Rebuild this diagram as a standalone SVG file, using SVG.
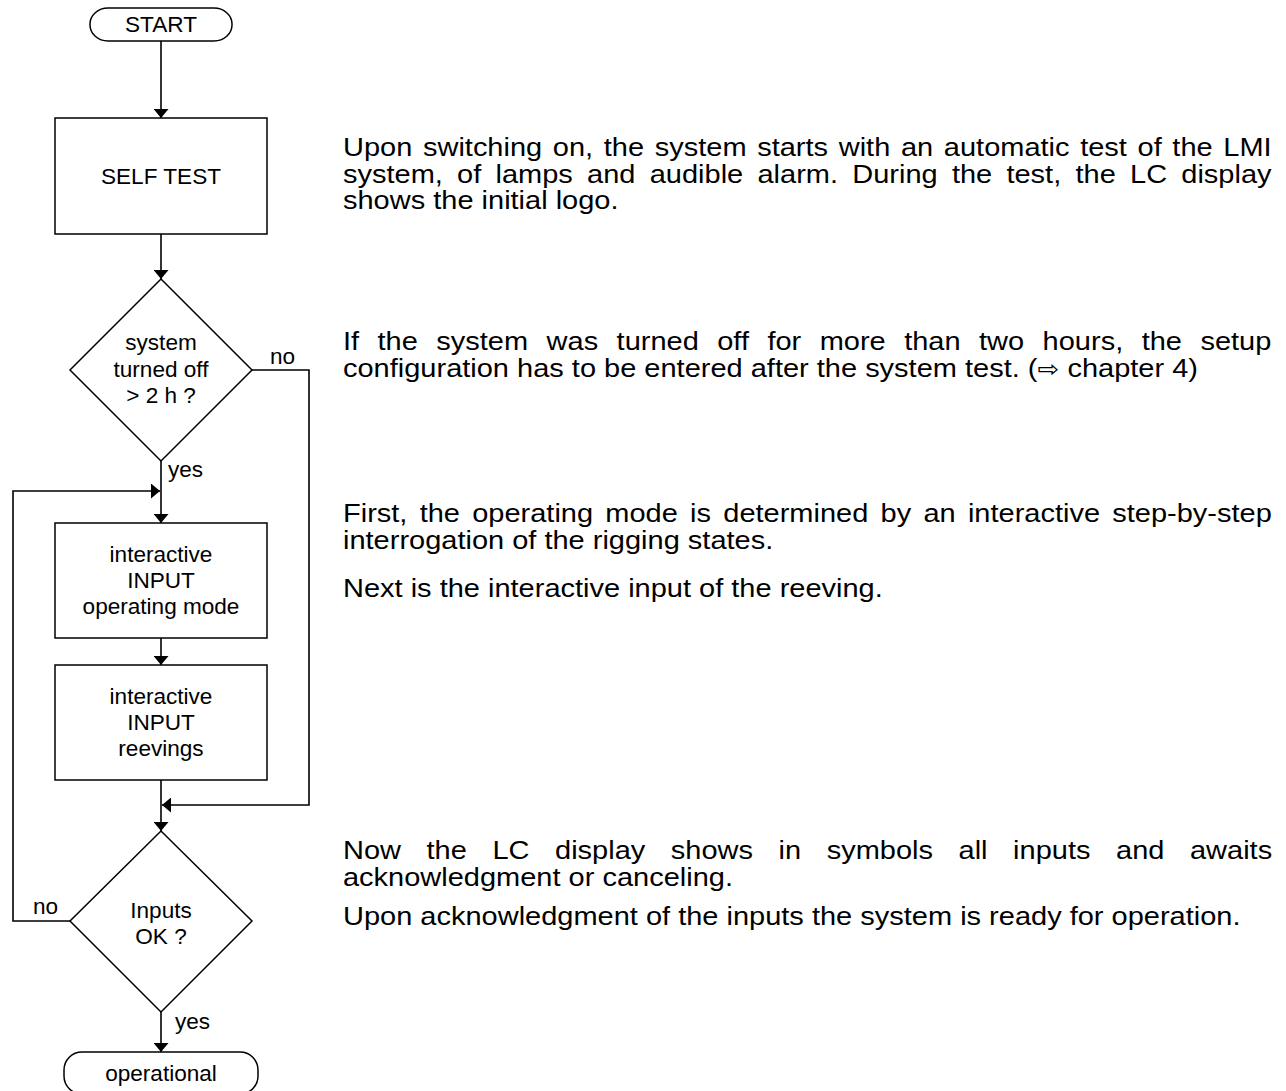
<svg xmlns="http://www.w3.org/2000/svg" width="1286" height="1091" viewBox="0 0 1286 1091">
<style>
.shape{fill:#fff;stroke:#000;stroke-width:1.5}
.conn{fill:none;stroke:#000;stroke-width:1.6}
.lbl{font-family:"Liberation Sans",Arial,sans-serif;font-size:21.5px;fill:#000;text-anchor:middle}
.lbl2{font-family:"Liberation Sans",Arial,sans-serif;font-size:21.5px;fill:#000}
.body{font-family:"Liberation Sans",Arial,sans-serif;font-size:25.5px;fill:#000}
</style>
<defs>
<marker id="ah" markerWidth="9" markerHeight="15" refX="10" refY="5" orient="auto" markerUnits="userSpaceOnUse" viewBox="0 0 10 10" preserveAspectRatio="none">
<path d="M0,0 L10,5 L0,10 z" fill="#000"/>
</marker>
</defs>
<rect width="1286" height="1091" fill="#fff"/>
<g id="connectors">
<path class="conn" d="M161,41 V118" marker-end="url(#ah)"/>
<path class="conn" d="M161,234 V279" marker-end="url(#ah)"/>
<path class="conn" d="M252,370 H309 V805 H162" marker-end="url(#ah)"/>
<path class="conn" d="M161,461 V523" marker-end="url(#ah)"/>
<path class="conn" d="M70,921 H13 V491 H160" marker-end="url(#ah)"/>
<path class="conn" d="M161,638 V665" marker-end="url(#ah)"/>
<path class="conn" d="M161,780 V831" marker-end="url(#ah)"/>
<path class="conn" d="M161,1012 V1052" marker-end="url(#ah)"/>
<g transform="translate(270,364) scale(1.05,1)"><text class="lbl2">no</text></g>
<g transform="translate(168,477) scale(1.05,1)"><text class="lbl2">yes</text></g>
<g transform="translate(33,914) scale(1.05,1)"><text class="lbl2">no</text></g>
<g transform="translate(175,1029) scale(1.05,1)"><text class="lbl2">yes</text></g>
</g>
<g id="start">
<rect class="shape" x="90" y="8" width="142" height="33" rx="18" ry="16"/>
<text class="lbl" transform="translate(161,32) scale(1.05,1)">START</text>
</g>
<g id="selftest">
<rect class="shape" x="55" y="118" width="212" height="116"/>
<text class="lbl" transform="translate(161,184) scale(1.05,1)">SELF TEST</text>
</g>
<g id="decision1">
<polygon class="shape" points="161,279 252,370 161,461 70,370"/>
<text class="lbl" transform="translate(161,350) scale(1.05,1)">system</text>
<text class="lbl" transform="translate(161,377) scale(1.05,1)">turned off</text>
<text class="lbl" transform="translate(161,403) scale(1.05,1)">&gt; 2 h ?</text>
</g>
<g id="inputmode">
<rect class="shape" x="55" y="523" width="212" height="115"/>
<text class="lbl" transform="translate(161,562) scale(1.05,1)">interactive</text>
<text class="lbl" transform="translate(161,588) scale(1.05,1)">INPUT</text>
<text class="lbl" transform="translate(161,614) scale(1.05,1)">operating mode</text>
</g>
<g id="inputreeving">
<rect class="shape" x="55" y="665" width="212" height="115"/>
<text class="lbl" transform="translate(161,704) scale(1.05,1)">interactive</text>
<text class="lbl" transform="translate(161,730) scale(1.05,1)">INPUT</text>
<text class="lbl" transform="translate(161,756) scale(1.05,1)">reevings</text>
</g>
<g id="decision2">
<polygon class="shape" points="161,831 252,921 161,1012 70,921"/>
<text class="lbl" transform="translate(161,918) scale(1.05,1)">Inputs</text>
<text class="lbl" transform="translate(161,944) scale(1.05,1)">OK ?</text>
</g>
<g id="operational">
<rect class="shape" x="64" y="1052" width="194" height="42" rx="18" ry="18"/>
<text class="lbl" transform="translate(161,1081) scale(1.05,1)">operational</text>
</g>
<g id="description">
<text class="body" transform="translate(343,156) scale(1.137,1)" word-spacing="2.29">Upon switching on, the system starts with an automatic test of the LMI</text>
<text class="body" transform="translate(343,182.5) scale(1.137,1)" word-spacing="5.45">system, of lamps and audible alarm. During the test, the LC display</text>
<text class="body" transform="translate(343,209) scale(1.137,1)">shows the initial logo.</text>
<text class="body" transform="translate(343,350) scale(1.137,1)" word-spacing="9.15">If the system was turned off for more than two hours, the setup</text>
<text class="body" transform="translate(343,377) scale(1.137,1)">configuration has to be entered after the system test. (<tspan font-family="DejaVu Sans" font-size="23">⇨</tspan> chapter 4)</text>
<text class="body" transform="translate(343,521.5) scale(1.137,1)" word-spacing="3.69">First, the operating mode is determined by an interactive step-by-step</text>
<text class="body" transform="translate(343,549) scale(1.137,1)">interrogation of the rigging states.</text>
<text class="body" transform="translate(343,597) scale(1.137,1)">Next is the interactive input of the reeving.</text>
<text class="body" transform="translate(343,858.5) scale(1.137,1)" word-spacing="15.4">Now the LC display shows in symbols all inputs and awaits</text>
<text class="body" transform="translate(343,886) scale(1.137,1)">acknowledgment or canceling.</text>
<text class="body" transform="translate(343,925) scale(1.137,1)">Upon acknowledgment of the inputs the system is ready for operation.</text>
</g>
</svg>
